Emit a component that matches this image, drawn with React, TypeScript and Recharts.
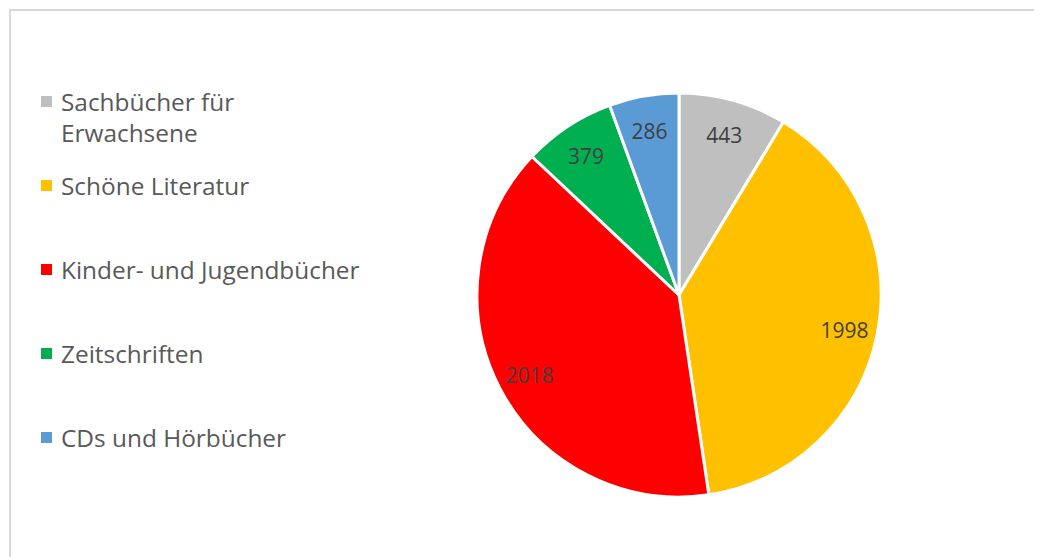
import { PieChart, Pie, Cell } from "recharts"

const categories = ["Sachbücher für Erwachsene", "Schöne Literatur", "Kinder- und Jugendbücher", "Zeitschriften", "CDs und Hörbücher"]
const legendLines = [["Sachbücher für", "Erwachsene"], ["Schöne Literatur"], ["Kinder- und Jugendbücher"], ["Zeitschriften"], ["CDs und Hörbücher"]]
const values = [443, 1998, 2018, 379, 286]
const colors = ["#BFBFBF", "#FFC000", "#FF0000", "#00B050", "#5B9BD5"]

const data = categories.map((name, i) => ({ name, value: values[i] }))

const FONT = "'Open Sans', sans-serif"
const RAD = Math.PI / 180

const renderLabel = (props: any) => {
  const { cx, cy, midAngle, outerRadius, value } = props
  const r = outerRadius * 0.835
  const x = cx + r * Math.cos(-midAngle * RAD)
  const y = cy + r * Math.sin(-midAngle * RAD)
  return (
    <text x={x} y={y} dy={2} fill="#404040" fontSize={21} fontFamily={FONT} textAnchor="middle" dominantBaseline="central">
      {value}
    </text>
  )
}

// legend drawn as plain html next to the chart, Excel-like slots of 84px
const LegendBox = () => (
  <div style={{ position: "absolute", left: 22, top: 75, fontFamily: FONT, fontSize: 24.4, color: "#595959" }}>
    {legendLines.map((lines, i) => (
      <div key={i} style={{ height: 84, position: "relative", paddingLeft: 28 }}>
        <span style={{ position: "absolute", left: 8, top: 10, width: 11, height: 11, background: colors[i] }} />
        {lines.map((l, j) => (
          <div key={j} style={{ lineHeight: "31px", whiteSpace: "nowrap" }}>
            {l}
          </div>
        ))}
      </div>
    ))}
  </div>
)

export default function App() {
  return (
    <div
      style={{
        position: "relative",
        marginLeft: 1,
        marginTop: 1,
        borderTop: "2px solid #d9d9d9",
        borderLeft: "2px solid #d9d9d9",
        width: 1040,
        height: 560,
      }}
    >
      <PieChart width={1040} height={560} margin={{ top: 0, right: 0, bottom: 0, left: 0 }}>
        <Pie
          data={data}
          dataKey="value"
          nameKey="name"
          cx={668}
          cy={284}
          outerRadius={202}
          startAngle={90}
          endAngle={-270}
          stroke="#FFFFFF"
          strokeWidth={3}
          label={renderLabel}
          labelLine={false}
          isAnimationActive={false}
        >
          {data.map((d, i) => (
            <Cell key={d.name} fill={colors[i]} />
          ))}
        </Pie>
      </PieChart>
      <LegendBox />
    </div>
  )
}
